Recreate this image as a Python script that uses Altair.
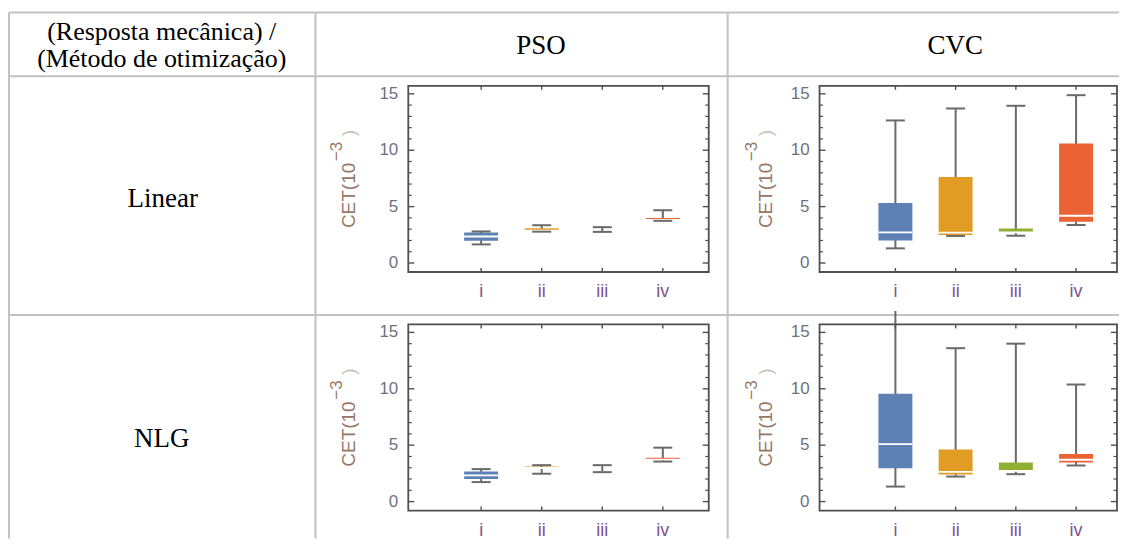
import altair as alt
import pandas as pd

# ---------------- data ----------------
categories = ["i", "ii", "iii", "iv"]
positions = [1, 2, 3, 4]
box_colors = ["#5E81B5", "#E19C24", "#8FB032", "#EB6235"]

row_titles = ["Linear", "NLG"]
col_titles = ["PSO", "CVC"]
corner_lines = ["(Resposta mecânica) /", "(Método de otimização)"]

major_ticks = [0, 5, 10, 15]
minor_ticks = [1, 2, 3, 4, 6, 7, 8, 9, 11, 12, 13, 14]
tick_labels = ["0", "5", "10", "15"]

# Linear / PSO
lin_pso_min = [1.65, 2.78, 2.76, 3.74]
lin_pso_q1 = [1.97, 2.88, 2.76, 3.82]
lin_pso_med = [2.35, 2.88, 2.76, 3.82]
lin_pso_q3 = [2.70, 3.08, 2.78, 4.00]
lin_pso_max = [2.80, 3.35, 3.18, 4.68]

# Linear / CVC
lin_cvc_min = [1.30, 2.40, 2.42, 3.37]
lin_cvc_q1 = [2.00, 2.48, 2.72, 3.66]
lin_cvc_med = [2.72, 2.69, 2.72, 4.19]
lin_cvc_q3 = [5.31, 7.62, 3.07, 10.60]
lin_cvc_max = [12.64, 13.70, 13.94, 14.88]

# NLG / PSO
nlg_pso_min = [1.73, 2.47, 2.61, 3.55]
nlg_pso_q1 = [2.00, 2.98, 2.61, 3.72]
nlg_pso_med = [2.32, 2.98, 2.61, 3.72]
nlg_pso_q3 = [2.67, 3.12, 2.63, 3.88]
nlg_pso_max = [2.88, 3.23, 3.23, 4.78]

# NLG / CVC
nlg_cvc_min = [1.33, 2.22, 2.43, 3.20]
nlg_cvc_q1 = [2.96, 2.40, 2.73, 3.47]
nlg_cvc_med = [5.10, 2.64, 2.73, 3.71]
nlg_cvc_q3 = [9.55, 4.62, 3.47, 4.21]
nlg_cvc_max = [16.90, 13.60, 14.00, 10.38]

# ---------------- style / layout ----------------
LINE = "#c2c2c2"
FRAME = "#4f4f4f"
WHISK = "#6a6a6a"
TICKLAB = "#6c7380"
TITLECOL = "#967865"
XLAB = "#7f5290"
SERIF = "Liberation Serif"
SANS = "Liberation Sans"

COLW = [307, 413, 392]
ROWH = [64, 239, 224]

FT, FB = 9.5, 196
Y0, Y15 = 187, 17.5
GEOM = {
    "PSO": dict(FL=93, FR=394, c1=166, c4=348, tb=40, sb=27),
    "CVC": dict(FL=92, FR=390, c1=168, c4=349, tb=44, sb=29),
}
one = pd.DataFrame({"k": [0]})


def table_lines(w, h):
    top = alt.Chart(one).mark_rule(color=LINE, strokeWidth=2).encode(
        x=alt.value(0), x2=alt.value(w), y=alt.value(0))
    left = alt.Chart(one).mark_rule(color=LINE, strokeWidth=2).encode(
        x=alt.value(0), y=alt.value(0), y2=alt.value(h))
    return [top, left]


def text_cell(w, h, lines):
    layers = table_lines(w, h)
    for txt, x, y, size in lines:
        layers.append(
            alt.Chart(one).mark_text(font=SERIF, fontSize=size, color="black",
                                     align="center", baseline="alphabetic", text=txt)
            .encode(x=alt.value(x), y=alt.value(y)))
    return alt.layer(*layers).properties(width=w, height=h)


def plot_cell(w, h, g, mins, q1s, meds, q3s, maxs):
    df = pd.DataFrame({"pos": positions, "label": categories, "lo": mins, "q1": q1s,
                       "med": meds, "q3": q3s, "hi": maxs, "color": box_colors})
    xs = alt.Scale(domain=[1, 4], range=[g["c1"], g["c4"]], nice=False, zero=False)
    ys = alt.Scale(domain=[0, 15], range=[Y0, Y15], nice=False, zero=False)
    X = alt.X("pos:Q", scale=xs, axis=None)
    base = alt.Chart(df)
    FL, FR = g["FL"], g["FR"]

    whisk = base.mark_rule(color=WHISK, strokeWidth=2).encode(
        x=X, y=alt.Y("lo:Q", scale=ys, axis=None), y2="hi:Q")
    box = base.mark_rect(xOffset=-17, x2Offset=17).encode(
        x=X, x2="pos:Q", y=alt.Y("q1:Q", scale=ys, axis=None), y2="q3:Q",
        color=alt.Color("color:N", scale=None, legend=None))
    med = base.mark_rule(color="white", strokeWidth=1.8, xOffset=-17, x2Offset=17).encode(
        x=X, x2="pos:Q", y=alt.Y("med:Q", scale=ys, axis=None))
    cap_lo = base.mark_rule(color=WHISK, strokeWidth=2, xOffset=-9.5, x2Offset=9.5).encode(
        x=X, x2="pos:Q", y=alt.Y("lo:Q", scale=ys, axis=None))
    cap_hi = base.transform_filter("datum.hi <= 15.7").mark_rule(
        color=WHISK, strokeWidth=2, xOffset=-9.5, x2Offset=9.5).encode(
        x=X, x2="pos:Q", y=alt.Y("hi:Q", scale=ys, axis=None))

    frame = alt.Chart(one).mark_rect(fillOpacity=0, stroke=FRAME, strokeWidth=1.8).encode(
        x=alt.value(FL), x2=alt.value(FR), y=alt.value(FT), y2=alt.value(FB))

    maj = alt.Chart(pd.DataFrame({"v": major_ticks, "t": tick_labels}))
    mnr = alt.Chart(pd.DataFrame({"v": minor_ticks}))
    YV = alt.Y("v:Q", scale=ys, axis=None)
    ticks = [
        maj.mark_rule(color=FRAME, strokeWidth=1.4).encode(y=YV, x=alt.value(FL), x2=alt.value(FL + 6)),
        maj.mark_rule(color=FRAME, strokeWidth=1.4).encode(y=YV, x=alt.value(FR - 6), x2=alt.value(FR)),
        mnr.mark_rule(color=FRAME, strokeWidth=1.2).encode(y=YV, x=alt.value(FL), x2=alt.value(FL + 3.5)),
        mnr.mark_rule(color=FRAME, strokeWidth=1.2).encode(y=YV, x=alt.value(FR - 3.5), x2=alt.value(FR)),
        base.mark_rule(color=FRAME, strokeWidth=1.4).encode(x=X, y=alt.value(FT), y2=alt.value(FT + 4)),
        base.mark_rule(color=FRAME, strokeWidth=1.4).encode(x=X, y=alt.value(FB - 4), y2=alt.value(FB)),
    ]
    ylabels = maj.mark_text(font=SANS, fontSize=17, color=TICKLAB, align="right",
                            baseline="middle").encode(y=YV, x=alt.value(FL - 10), text="t:N")
    xlabels = base.mark_text(font=SANS, fontSize=18, color=XLAB, align="center",
                             baseline="middle").encode(x=X, y=alt.value(FB + 20), text="label:N")

    t_start = 152
    title1 = alt.Chart(one).mark_text(font=SANS, fontSize=19, color=TITLECOL, angle=270,
                                      align="left", baseline="alphabetic", text="CET(10").encode(
        x=alt.value(g["tb"]), y=alt.value(t_start))
    title2 = alt.Chart(one).mark_text(font=SANS, fontSize=17, color=TITLECOL, angle=270,
                                      align="left", baseline="alphabetic", text="−3").encode(
        x=alt.value(g["sb"]), y=alt.value(t_start - 67))
    title3 = alt.Chart(one).mark_text(font=SANS, fontSize=19, color="#c8c0bb", angle=270,
                                      align="left", baseline="alphabetic", text=")").encode(
        x=alt.value(g["tb"]), y=alt.value(t_start - 92))

    layers = table_lines(w, h) + [whisk, box, med, cap_lo, cap_hi, frame] + ticks + \
        [ylabels, xlabels, title1, title2, title3]
    return alt.layer(*layers).properties(width=w, height=h)


cells = [
    text_cell(COLW[0], ROWH[0], [(corner_lines[0], 153, 27.5, 26), (corner_lines[1], 153, 54.5, 26)]),
    text_cell(COLW[1], ROWH[0], [(col_titles[0], 226, 42, 27)]),
    text_cell(COLW[2], ROWH[0], [(col_titles[1], 228, 42, 27)]),
    text_cell(COLW[0], ROWH[1], [(row_titles[0], 154, 131, 27)]),
    plot_cell(COLW[1], ROWH[1], GEOM["PSO"], lin_pso_min, lin_pso_q1, lin_pso_med, lin_pso_q3, lin_pso_max),
    plot_cell(COLW[2], ROWH[1], GEOM["CVC"], lin_cvc_min, lin_cvc_q1, lin_cvc_med, lin_cvc_q3, lin_cvc_max),
    text_cell(COLW[0], ROWH[2], [(row_titles[1], 153, 132, 27)]),
    plot_cell(COLW[1], ROWH[2], GEOM["PSO"], nlg_pso_min, nlg_pso_q1, nlg_pso_med, nlg_pso_q3, nlg_pso_max),
    plot_cell(COLW[2], ROWH[2], GEOM["CVC"], nlg_cvc_min, nlg_cvc_q1, nlg_cvc_med, nlg_cvc_q3, nlg_cvc_max),
]

chart = alt.concat(*cells, columns=3, spacing=0, bounds="flush").resolve_scale(
    x="independent", y="independent").properties(
    padding={"left": 0, "top": 3, "right": 0, "bottom": 0}).configure_view(strokeWidth=0)

chart.save("out.html", embed_options={"renderer": "svg", "actions": False})
